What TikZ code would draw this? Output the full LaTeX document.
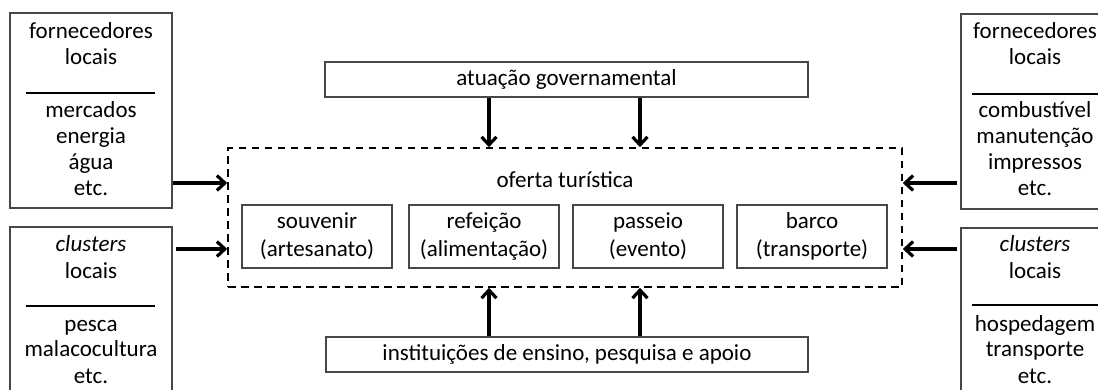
\documentclass[tikz,border=0pt]{standalone}
\usepackage{fontspec}
\setmainfont{Carlito}
\usetikzlibrary{arrows.meta}
\begin{document}
\begin{tikzpicture}[x=1pt,y=-1pt,
  box/.style={draw=black!72, line width=1.2pt, inner sep=0pt, minimum width=#1},
  lbl/.style={anchor=base, inner sep=0pt, font=\fontsize{23}{26}\selectfont},
  inbox/.style={draw=black!72, line width=1.2pt, inner sep=0pt, minimum width=150pt, minimum height=63pt, align=center, font=\fontsize{23}{28}\selectfont},
  divider/.style={line width=1.4pt, black},
  arr/.style={line width=3.2pt, -{Straight Barb[length=8pt,width=15pt]}},
  dashbox/.style={draw, line width=1.6pt, dash pattern=on 7.5pt off 5.5pt, minimum width=674pt, minimum height=139pt, inner sep=0pt}
]
\useasboundingbox (0,0) rectangle (1098,389);
% side boxes
\node[box=162pt, minimum height=195pt] (lf) at (91,110.5) {};
\node[box=162pt, minimum height=173pt] (lc) at (91,313.5) {};
\node[box=149pt, minimum height=195pt] (rf) at (1035.5,111.5) {};
\node[box=149pt, minimum height=172pt] (rc) at (1035.5,314) {};
% dividers
\coordinate (ld1a) at (26,93); \coordinate (ld1b) at (155,93);
\coordinate (ld2a) at (26,306); \coordinate (ld2b) at (155,306);
\coordinate (rd1a) at (972,94); \coordinate (rd1b) at (1100,94);
\coordinate (rd2a) at (972,305); \coordinate (rd2b) at (1100,305);
\draw[divider] (ld1a) -- (ld1b);
\draw[divider] (ld2a) -- (ld2b);
\draw[divider] (rd1a) -- (rd1b);
\draw[divider] (rd2a) -- (rd2b);
% left top texts
\node[lbl] (lf1) at (91,38) {fornecedores};
\node[lbl] (lf2) at (91,64) {locais};
\node[lbl] (lf3) at (91,117) {mercados};
\node[lbl] (lf4) at (91,143) {energia};
\node[lbl] (lf5) at (91,169) {água};
\node[lbl] (lf6) at (91,195) {etc.};
% left bottom texts
\node[lbl] (lc1) at (91,251) {\itshape clusters};
\node[lbl] (lc2) at (91,278) {locais};
\node[lbl] (lc3) at (91,331) {pesca};
\node[lbl] (lc4) at (91,356) {malacocultura};
\node[lbl] (lc5) at (91,383) {etc.};
% right top texts
\node[lbl] (rf1) at (1035,38) {fornecedores};
\node[lbl] (rf2) at (1035,64) {locais};
\node[lbl] (rf3) at (1035,117) {combustível};
\node[lbl] (rf4) at (1035,143) {manutenção};
\node[lbl] (rf5) at (1035,169) {impressos};
\node[lbl] (rf6) at (1035,195) {etc.};
% right bottom texts
\node[lbl] (rc1) at (1035,251) {\itshape clusters};
\node[lbl] (rc2) at (1035,278) {locais};
\node[lbl] (rc3) at (1035,331) {hospedagem};
\node[lbl] (rc4) at (1035,356) {transporte};
\node[lbl] (rc5) at (1035,383) {etc.};
% center
\node[box=483pt, minimum height=35pt, font=\fontsize{23}{26}\selectfont] (gov) at (566.5,79.5) {atuação governamental};
\node[box=482pt, minimum height=35pt, font=\fontsize{23}{26}\selectfont] (ins) at (567,354.5) {instituições de ensino, pesquisa e apoio};
\node[dashbox] (dash) at (565,217.5) {};
\node[lbl] (ofe) at (565,187) {oferta turística};
\node[inbox] (b1) at (317,236.5) {souvenir\\(artesanato)};
\node[inbox] (b2) at (484,236.5) {refeição\\(alimentação)};
\node[inbox] (b3) at (648,236.5) {passeio\\(evento)};
\node[inbox] (b4) at (812,236.5) {barco\\(transporte)};
% arrows vertical
\draw[arr] ([xshift=-77.5pt]gov.south) -- ([xshift=-77.5pt]gov.south |- dash.north);
\draw[arr] ([xshift=73.5pt]gov.south) -- ([xshift=73.5pt]gov.south |- dash.north);
\draw[arr] ([xshift=-78pt]ins.north) -- ([xshift=-78pt]ins.north |- dash.south);
\draw[arr] ([xshift=73pt]ins.north) -- ([xshift=73pt]ins.north |- dash.south);
% arrows horizontal
\coordinate (ya) at (0,183);
\coordinate (yb) at (0,249);
\draw[arr] (lf.east |- ya) -- (dash.west |- ya);
\draw[arr, shorten <=3pt] (lc.east |- yb) -- (dash.west |- yb);
\draw[arr, shorten <=3pt] (rf.west |- ya) -- (dash.east |- ya);
\draw[arr, shorten <=3pt] (rc.west |- yb) -- (dash.east |- yb);
\end{tikzpicture}
\end{document}
